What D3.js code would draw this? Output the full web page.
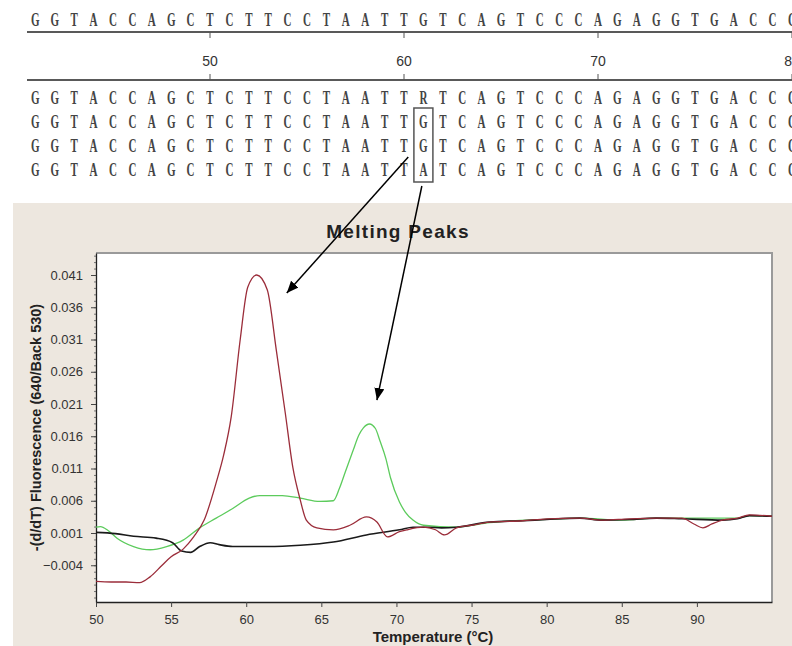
<!DOCTYPE html>
<html>
<head>
<meta charset="utf-8">
<script src="https://d3js.org/d3.v7.min.js"></script>
<style>
  body { margin: 0; background: #fff; }
  svg { display: block; }
</style>
</head>
<body>
<script>
// sequence alignment (positions 41..80)
const seqStart = 41;
const refSeq = "GGTACCAGCTCTTCCTAATTGTCAGTCCCAGAGGTGACCC";
const sampleSeqs = [
  "GGTACCAGCTCTTCCTAATTRTCAGTCCCAGAGGTGACCC",
  "GGTACCAGCTCTTCCTAATTGTCAGTCCCAGAGGTGACCC",
  "GGTACCAGCTCTTCCTAATTGTCAGTCCCAGAGGTGACCC",
  "GGTACCAGCTCTTCCTAATTATCAGTCCCAGAGGTGACCC"
];
const rulerTicks = [50, 60, 70, 80];
const snpPos = 61;

// melting peak chart
const xTicks = [50, 55, 60, 65, 70, 75, 80, 85, 90];
const yTicks = [-0.004, 0.001, 0.006, 0.011, 0.016, 0.021, 0.026, 0.031, 0.036, 0.041];

const redCurve = [
  [50, -0.0065], [51, -0.0066], [52, -0.0066], [52.9, -0.0067], [53.6, -0.0058],
  [54.4, -0.0040], [55.0, -0.0027], [55.8, -0.0015], [56.5, 0.0004], [57.2, 0.0030],
  [58.0, 0.0088], [58.5, 0.0131], [59.0, 0.0190], [59.6, 0.0310], [60.1, 0.0391],
  [60.7, 0.0410], [61.4, 0.0387], [62.0, 0.0294], [62.6, 0.0196], [63.1, 0.0112],
  [63.6, 0.0061], [64.0, 0.0030], [64.7, 0.0018], [65.8, 0.0015], [66.9, 0.0022],
  [68.0, 0.0035], [68.7, 0.0027], [69.4, 0.0004], [70.2, 0.0012], [70.7, 0.0015],
  [71.8, 0.0019], [72.6, 0.0015], [73.2, 0.0007], [74.0, 0.0018], [75.0, 0.0022],
  [76.2, 0.0027], [78.4, 0.0029], [80.0, 0.0032], [82.2, 0.0033], [83.7, 0.0030],
  [85.5, 0.0032], [87.3, 0.0033], [89.0, 0.0033], [89.8, 0.0024], [90.4, 0.0018],
  [91.0, 0.0024], [91.7, 0.0030], [92.7, 0.0033], [93.5, 0.0038], [95, 0.0036]
];
const greenCurve = [
  [50, 0.0019], [50.3, 0.0020], [50.8, 0.0014], [51.4, 0.0002], [52.5, -0.0011],
  [53.6, -0.0016], [54.7, -0.0011], [55.8, -0.0001], [56.9, 0.0018], [58.0, 0.0033],
  [59.1, 0.0048], [60.2, 0.0064], [60.9, 0.0068], [62.4, 0.0068], [63.6, 0.0064],
  [64.9, 0.0059], [65.8, 0.0060], [66.2, 0.0079], [66.6, 0.0105], [67.1, 0.0137],
  [67.5, 0.0162], [67.8, 0.0173], [68.2, 0.0179], [68.6, 0.0172], [68.9, 0.0153],
  [69.3, 0.0125], [69.6, 0.0096], [70.2, 0.0058], [70.6, 0.0042], [71.1, 0.0030],
  [71.8, 0.0022], [74.0, 0.0019], [76.2, 0.0026], [80.0, 0.0031], [82.2, 0.0033],
  [85.0, 0.0030], [87.3, 0.0033], [90.0, 0.0033], [92.7, 0.0033], [93.5, 0.0037],
  [95, 0.0036]
];
const blackCurve = [
  [50, 0.0011], [51.3, 0.0009], [52.5, 0.0005], [54.0, 0.0002], [55.1, -0.0005],
  [55.7, -0.0018], [56.3, -0.0020], [56.9, -0.0011], [57.6, -0.0005], [58.2, -0.0008],
  [59.1, -0.0011], [61.4, -0.0011], [63.6, -0.0009], [65.8, -0.0004], [68.0, 0.0007],
  [70.2, 0.0015], [71.1, 0.0019], [72.0, 0.0019], [73.0, 0.0018], [74.0, 0.0019],
  [76.2, 0.0027], [78.4, 0.0029], [80.0, 0.0031], [82.2, 0.0033], [83.7, 0.0030],
  [85.5, 0.0031], [87.3, 0.0033], [89.0, 0.0032], [91.7, 0.0030], [92.7, 0.0032],
  [93.5, 0.0037], [95, 0.0036]
];

// arrows: from alignment column to a point on the chart (temp, value)
const arrows = [
  { from: [60.22, 157], to: [62.7, 0.0382] },
  { from: [60.92, 186], to: [68.7, 0.0216] }
];

const W = 792, H = 646;
const svg = d3.select("body").append("svg")
  .attr("width", W)
  .attr("height", H);

svg.append("defs").append("marker")
  .attr("id", "head")
  .attr("viewBox", "0 0 12 10")
  .attr("refX", 12)
  .attr("refY", 5)
  .attr("markerWidth", 12)
  .attr("markerHeight", 10)
  .attr("markerUnits", "userSpaceOnUse")
  .attr("orient", "auto")
  .append("path")
  .attr("d", "M0,0 L12,5 L0,10 Z")
  .attr("fill", "#000");

// ---------- alignment ----------
const pos = d3.scaleLinear().domain([50, 80]).range([210, 792]);
const seqFont = "'Liberation Serif', 'DejaVu Serif', serif";

function drawSeq(seq, baseline) {
  const g = svg.append("g");
  g.selectAll("g")
    .data(seq.split(""))
    .join("g")
    .attr("transform", (d, i) => `translate(${pos(seqStart + i)},${baseline})`)
    .append("text")
    .attr("transform", "scale(0.58,1)")
    .attr("text-anchor", "middle")
    .attr("font-family", seqFont)
    .attr("font-weight", "bold")
    .attr("font-size", 19)
    .attr("fill", "#444")
    .text(d => d);
}

drawSeq(refSeq, 26);

const ruler = svg.append("g");
[32, 80].forEach(yy => {
  ruler.append("line")
    .attr("x1", 27).attr("x2", W)
    .attr("y1", yy).attr("y2", yy)
    .attr("stroke", "#222").attr("stroke-width", 1.6);
});
ruler.selectAll(".tk1").data(rulerTicks).join("line")
  .attr("x1", d => pos(d)).attr("x2", d => pos(d))
  .attr("y1", 32).attr("y2", 38)
  .attr("stroke", "#555");
ruler.selectAll(".tk2").data(rulerTicks).join("line")
  .attr("x1", d => pos(d)).attr("x2", d => pos(d))
  .attr("y1", 74).attr("y2", 80)
  .attr("stroke", "#555");
ruler.selectAll("text").data(rulerTicks).join("text")
  .attr("x", d => pos(d))
  .attr("y", 66)
  .attr("text-anchor", "middle")
  .attr("font-family", "'Liberation Sans', Arial, sans-serif")
  .attr("font-size", 14)
  .attr("fill", "#333")
  .text(d => d);

const rowBase = [104, 128, 152, 176];
sampleSeqs.forEach((s, i) => drawSeq(s, rowBase[i]));

// box around the SNP column (rows 2-4)
svg.append("rect")
  .attr("x", pos(snpPos) - 9.5)
  .attr("y", 108)
  .attr("width", 19)
  .attr("height", 74)
  .attr("fill", "none")
  .attr("stroke", "#555")
  .attr("stroke-width", 1.5);

// ---------- chart panel ----------
svg.append("rect")
  .attr("x", 13).attr("y", 203)
  .attr("width", W - 13).attr("height", H - 203)
  .attr("fill", "#ede7df");

const m = { left: 96, right: 772, top: 253, bottom: 602 };
const x = d3.scaleLinear().domain([50, 95]).range([m.left, m.right]);
const y = d3.scaleLinear().domain([0.001 - 69 / 6450, 0.001 + 280 / 6450]).range([m.bottom, m.top]);

svg.append("rect")
  .attr("x", m.left).attr("y", m.top)
  .attr("width", m.right - m.left).attr("height", m.bottom - m.top)
  .attr("fill", "#fff");

// shadow frame top/right
svg.append("path")
  .attr("d", `M${m.left},${m.top} H${m.right} V${m.bottom}`)
  .attr("fill", "none")
  .attr("stroke", "#9a9a9a")
  .attr("stroke-width", 2);

svg.append("text")
  .attr("x", 398).attr("y", 238)
  .attr("text-anchor", "middle")
  .attr("font-family", "'Liberation Sans', Arial, sans-serif")
  .attr("font-weight", "bold")
  .attr("font-size", 19)
  .attr("letter-spacing", 1.3)
  .attr("fill", "#222")
  .text("Melting Peaks");

const tickFont = "'Liberation Sans Narrow', 'Liberation Sans', Arial, sans-serif";

// x axis
const xAxis = svg.append("g")
  .attr("transform", `translate(0,${m.bottom})`)
  .call(d3.axisBottom(x).tickValues(xTicks).tickSize(5).tickSizeOuter(0).tickFormat(d3.format("d")));
xAxis.select(".domain").attr("stroke", "#222").attr("stroke-width", 1.3);
xAxis.selectAll(".tick line").attr("stroke", "#444");
xAxis.selectAll("text")
  .attr("font-family", tickFont)
  .attr("font-size", 13)
  .attr("fill", "#333")
  .attr("y", 10)
  .attr("dy", "0.9em");

// y axis minor ticks
const minor = d3.range(-0.009, 0.0441, 0.001);
svg.append("g")
  .attr("transform", `translate(${m.left},0)`)
  .call(d3.axisLeft(y).tickValues(minor).tickSize(2).tickFormat(""))
  .call(g => g.select(".domain").remove())
  .selectAll("line").attr("stroke", "#777");

const yAxis = svg.append("g")
  .attr("transform", `translate(${m.left},0)`)
  .call(d3.axisLeft(y).tickValues(yTicks).tickSize(5).tickSizeOuter(0).tickFormat(d3.format(".3f")));
yAxis.select(".domain").attr("stroke", "#222").attr("stroke-width", 1.3);
yAxis.selectAll(".tick line").attr("stroke", "#444");
yAxis.selectAll("text")
  .attr("font-family", tickFont)
  .attr("font-size", 13)
  .attr("fill", "#333")
  .attr("x", -13);

svg.append("text")
  .attr("x", 433).attr("y", 642)
  .attr("text-anchor", "middle")
  .attr("font-family", "'Liberation Sans', Arial, sans-serif")
  .attr("font-weight", "bold")
  .attr("font-size", 15)
  .attr("fill", "#222")
  .text("Temperature (\u00b0C)");

svg.append("text")
  .attr("transform", `translate(41,${(m.top + m.bottom) / 2}) rotate(-90)`)
  .attr("text-anchor", "middle")
  .attr("font-family", "'Liberation Sans', Arial, sans-serif")
  .attr("font-weight", "bold")
  .attr("font-size", 14.5)
  .attr("fill", "#222")
  .text("-(d/dT) Fluorescence (640/Back 530)");

// curves
const line = d3.line()
  .x(d => x(d[0]))
  .y(d => y(d[1]))
  .curve(d3.curveMonotoneX);

const series = [
  { data: greenCurve, color: "#5ccb5c", w: 1.3 },
  { data: blackCurve, color: "#1a1a1a", w: 1.6 },
  { data: redCurve, color: "#9b2d3a", w: 1.3 }
];
svg.append("g").selectAll("path")
  .data(series)
  .join("path")
  .attr("d", d => line(d.data))
  .attr("fill", "none")
  .attr("stroke", d => d.color)
  .attr("stroke-width", d => d.w);

// arrows from alignment to peaks
svg.append("g").selectAll("line")
  .data(arrows)
  .join("line")
  .attr("x1", d => pos(d.from[0]))
  .attr("y1", d => d.from[1])
  .attr("x2", d => x(d.to[0]))
  .attr("y2", d => y(d.to[1]))
  .attr("stroke", "#000")
  .attr("stroke-width", 1.5)
  .attr("marker-end", "url(#head)");
</script>
</body>
</html>
